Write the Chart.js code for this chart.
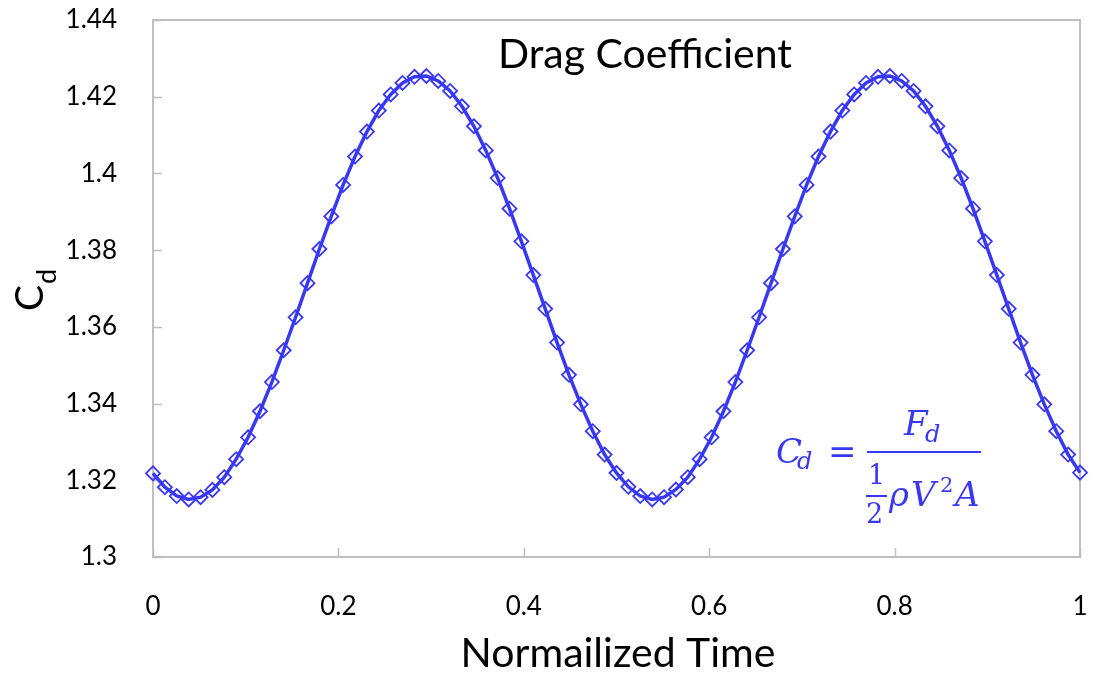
<!DOCTYPE html>
<html>
<head>
<meta charset="utf-8">
<script src="https://cdn.jsdelivr.net/npm/chart.js@4.4.1/dist/chart.umd.min.js"></script>
<style>
    html, body { margin: 0; padding: 0; background: #ffffff; }
    #wrap { width: 1101px; height: 674px; }
</style>
</head>
<body>
<div id="wrap"><canvas id="chart" width="1101" height="674"></canvas></div>
<script>
// normalized time of each sample
const timeValues = [
    0, 0.0128, 0.0256, 0.0385, 0.0513, 0.0641, 0.0769, 0.0897, 0.1026, 0.1154,
    0.1282, 0.1410, 0.1538, 0.1667, 0.1795, 0.1923, 0.2051, 0.2179, 0.2308, 0.2436,
    0.2564, 0.2692, 0.2821, 0.2949, 0.3077, 0.3205, 0.3333, 0.3462, 0.3590, 0.3718,
    0.3846, 0.3974, 0.4103, 0.4231, 0.4359, 0.4487, 0.4615, 0.4744, 0.4872, 0.5,
    0.5128, 0.5256, 0.5385, 0.5513, 0.5641, 0.5769, 0.5897, 0.6026, 0.6154, 0.6282,
    0.6410, 0.6538, 0.6667, 0.6795, 0.6923, 0.7051, 0.7179, 0.7308, 0.7436, 0.7564,
    0.7692, 0.7821, 0.7949, 0.8077, 0.8205, 0.8333, 0.8462, 0.8590, 0.8718, 0.8846,
    0.8974, 0.9103, 0.9231, 0.9359, 0.9487, 0.9615, 0.9744, 0.9872, 1
];

// drag coefficient
const cdValues = [
    1.3218, 1.3182, 1.3159, 1.3150, 1.3156, 1.3175, 1.3208, 1.3255, 1.3312, 1.3380,
    1.3456, 1.3539, 1.3625, 1.3714, 1.3803, 1.3888, 1.3970, 1.4044, 1.4109, 1.4164,
    1.4206, 1.4236, 1.4252, 1.4254, 1.4241, 1.4215, 1.4175, 1.4123, 1.4060, 1.3988,
    1.3908, 1.3823, 1.3735, 1.3647, 1.3559, 1.3475, 1.3398, 1.3328, 1.3267,
    1.3219, 1.3183, 1.3159, 1.3150, 1.3156, 1.3176, 1.3208, 1.3255, 1.3312, 1.3380,
    1.3456, 1.3539, 1.3625, 1.3714, 1.3803, 1.3888, 1.3970, 1.4044, 1.4109, 1.4164,
    1.4206, 1.4236, 1.4252, 1.4254, 1.4241, 1.4215, 1.4175, 1.4123, 1.4060, 1.3988,
    1.3908, 1.3823, 1.3735, 1.3647, 1.3559, 1.3475, 1.3398, 1.3328, 1.3267, 1.3220
];

const xTicks = [0, 0.2, 0.4, 0.6, 0.8, 1];
const yTicks = [1.3, 1.32, 1.34, 1.36, 1.38, 1.4, 1.42, 1.44];

const chartTitle = 'Drag Coefficient';
const xTitle = 'Normailized Time';

const BLUE = '#3838f4';
const FRAME = '#bfbfbf';
const FONT = 'Lato, "Open Sans", sans-serif';

const points = timeValues.map((t, i) => ({ x: t, y: cdValues[i] }));

// frame, inward ticks, titles and the formula
const decorations = {
    id: 'decorations',
    beforeDatasetsDraw(chart) {
        const { ctx, chartArea: a, scales } = chart;
        ctx.save();
        ctx.strokeStyle = FRAME;
        ctx.lineWidth = 2;
        ctx.strokeRect(a.left, a.top, a.right - a.left, a.bottom - a.top);

        ctx.lineWidth = 1.5;
        ctx.beginPath();
        for (const v of yTicks) {
            const y = Math.round(scales.y.getPixelForValue(v)) + 0.5;
            ctx.moveTo(a.left, y);
            ctx.lineTo(a.left + 9, y);
        }
        for (const v of xTicks) {
            const x = Math.round(scales.x.getPixelForValue(v)) + 0.5;
            ctx.moveTo(x, a.bottom);
            ctx.lineTo(x, a.bottom - 9);
        }
        ctx.stroke();
        ctx.restore();
    },
    afterDraw(chart) {
        const { ctx } = chart;
        ctx.save();
        ctx.fillStyle = '#000000';

        // title inside the plot
        ctx.font = '41px ' + FONT;
        ctx.textAlign = 'center';
        ctx.textBaseline = 'alphabetic';
        ctx.fillText(chartTitle, 645, 68);

        // x axis title
        ctx.font = '41px ' + FONT;
        ctx.fillText(xTitle, 618, 667);

        // y axis title C_d
        ctx.translate(43, 311);
        ctx.rotate(-Math.PI / 2);
        ctx.textAlign = 'left';
        ctx.font = '39px ' + FONT;
        ctx.fillText('C', 0, 0);
        const cw = ctx.measureText('C').width;
        ctx.font = '27px ' + FONT;
        ctx.fillText('d', cw + 1, 13);
        ctx.restore();

        // formula
        ctx.save();
        ctx.fillStyle = BLUE;
        ctx.textAlign = 'left';
        ctx.textBaseline = 'alphabetic';
        const serif = '"DejaVu Serif", "Liberation Serif", serif';
        ctx.font = 'italic 34px ' + serif;
        ctx.fillText('C', 776, 463);
        ctx.font = 'italic 24px ' + serif;
        ctx.fillText('d', 797, 469);
        ctx.font = '34px ' + serif;
        ctx.fillText('=', 828, 463);
        ctx.fillRect(867, 451, 114, 2);
        ctx.font = 'italic 34px ' + serif;
        ctx.fillText('F', 904, 435);
        ctx.font = 'italic 24px ' + serif;
        ctx.fillText('d', 925, 442);
        ctx.font = '27px ' + serif;
        ctx.fillText('1', 868, 484);
        ctx.fillText('2', 866, 523);
        ctx.fillRect(866, 495, 21, 2);
        ctx.font = 'italic 34px ' + serif;
        ctx.fillText('\u03C1', 889, 506);
        ctx.fillText('V', 911, 506);
        ctx.font = '21px ' + serif;
        ctx.fillText('2', 940, 492);
        ctx.font = 'italic 34px ' + serif;
        ctx.fillText('A', 955, 506);
        ctx.restore();
    }
};

const config = {
    type: 'line',
    data: {
        datasets: [{
            label: 'Cd',
            data: points,
            borderColor: BLUE,
            borderWidth: 3.5,
            backgroundColor: 'rgba(0,0,0,0)',
            pointStyle: 'rectRot',
            pointRadius: 7,
            pointBorderWidth: 1.8,
            pointBorderColor: BLUE,
            pointBackgroundColor: 'rgba(0,0,0,0)',
            tension: 0,
            clip: false
        }]
    },
    options: {
        responsive: false,
        animation: false,
        layout: { padding: { top: 20, right: 21, left: 0, bottom: 0 } },
        plugins: {
            legend: { display: false },
            title: { display: false },
            tooltip: { enabled: false }
        },
        scales: {
            x: {
                type: 'linear',
                min: 0,
                max: 1,
                afterBuildTicks: (scale) => { scale.ticks = xTicks.map(v => ({ value: v })); },
                afterFit: (scale) => {
                    scale.height = 117;
                    scale.paddingLeft = 0;
                    scale.paddingRight = 0;
                },
                grid: { display: false },
                border: { display: false },
                ticks: {
                    color: '#000000',
                    font: { family: FONT, size: 26 },
                    padding: 26,
                    maxRotation: 0,
                    callback: (v) => String(+v.toFixed(2))
                }
            },
            y: {
                type: 'linear',
                min: 1.3,
                max: 1.44,
                afterBuildTicks: (scale) => { scale.ticks = yTicks.map(v => ({ value: v })); },
                afterFit: (scale) => {
                    scale.width = 153;
                    scale.paddingTop = 0;
                    scale.paddingBottom = 0;
                },
                grid: { display: false },
                border: { display: false },
                ticks: {
                    color: '#000000',
                    font: { family: FONT, size: 26 },
                    padding: 28,
                    callback: (v) => String(+v.toFixed(2))
                }
            }
        }
    },
    plugins: [decorations]
};

new Chart(document.getElementById('chart'), config);
</script>
</body>
</html>
